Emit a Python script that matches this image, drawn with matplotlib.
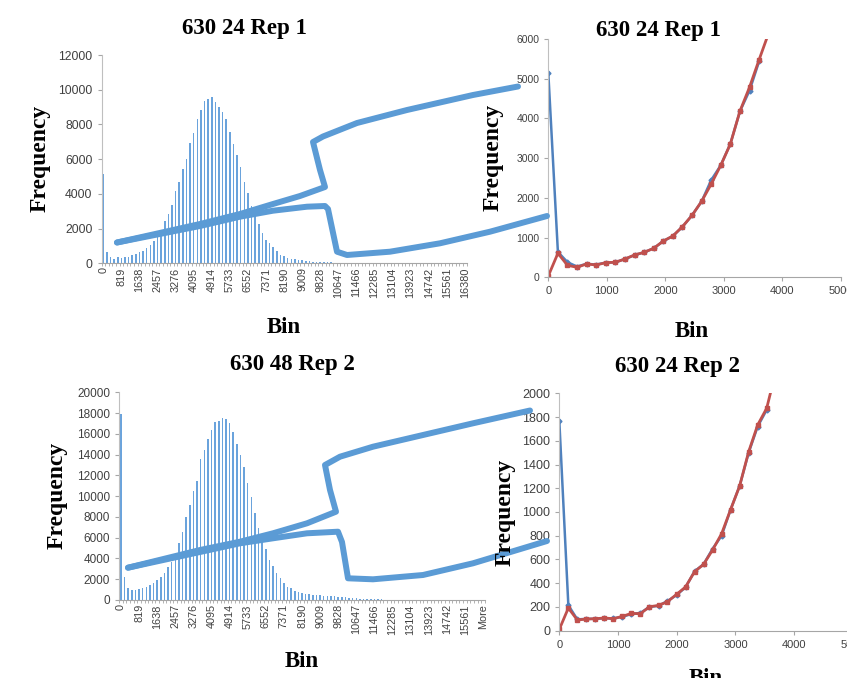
import numpy as np
import matplotlib.pyplot as plt
from matplotlib.lines import Line2D

# histogram counts, one per bin (bin width 163.8)
top_bin_labels = ['0', '819', '1638', '2457', '3276', '4095', '4914', '5733', '6552', '7371',
                  '8190', '9009', '9828', '10647', '11466', '12285', '13104', '13923',
                  '14742', '15561', '16380']
top_counts = [5150, 640, 380, 270, 340, 320, 370, 380, 460, 560,
              630, 730, 910, 1040, 1270, 1560, 1910, 2450, 2820, 3360,
              4180, 4700, 5440, 6030, 6950, 7520, 8310, 8830, 9350, 9440,
              9580, 9270, 8980, 8690, 8290, 7560, 6870, 6240, 5570, 4660,
              4070, 3300, 2700, 2250, 1770, 1350, 1170, 920, 700, 500,
              400, 310, 260, 230, 190, 170, 140, 115, 96, 85,
              75, 65, 58, 50, 45, 40, 35, 30, 28, 25,
              22, 20, 18, 16, 15, 13, 12, 11, 10, 9,
              8, 8, 7, 7, 6, 6, 6, 5, 5, 5,
              5, 4, 4, 4, 4, 3, 3, 3, 3, 3, 3]

bottom_bin_labels = ['0', '819', '1638', '2457', '3276', '4095', '4914', '5733', '6552', '7371',
                     '8190', '9009', '9828', '10647', '11466', '12285', '13104', '13923',
                     '14742', '15561', 'More']
bottom_counts = [17900, 2240, 1120, 960, 990, 1025, 1120, 1280, 1410, 1600,
                 1920, 2240, 2630, 3140, 3700, 4490, 5520, 6580, 8030, 9180,
                 10500, 11460, 13550, 14450, 15470, 16400, 17140, 17240, 17530, 17460,
                 17010, 16180, 15020, 14000, 12780, 11240, 9890, 8350, 6970, 5900,
                 4880, 3850, 3270, 2570, 2090, 1600, 1280, 1120, 900, 800,
                 640, 580, 545, 510, 470, 440, 420, 400, 380, 360,
                 330, 300, 260, 220, 190, 160, 140, 120, 100, 85,
                 70, 60, 50, 40, 30, 25, 20, 18, 15, 12,
                 10, 8, 7, 6, 5, 5, 4, 4, 3, 3,
                 3, 2, 2, 2, 2, 1, 1, 1, 1, 1, 0]

# zoomed line charts
rep1_x = [0, 164, 328, 491, 655, 819, 983, 1147, 1310, 1474, 1638, 1802,
          1966, 2129, 2293, 2457, 2621, 2785, 2948, 3112, 3276, 3440, 3604, 3767]
rep1_blue = top_counts[:23]
rep1_red = [34, 604, 302, 252, 336, 310, 369, 378, 461, 562, 629, 730,
            914, 1040, 1275, 1560, 1913, 2349, 2819, 3356, 4184, 4787, 5481, 6150]

rep2_x = [0, 154, 307, 461, 614, 768, 922, 1075, 1229, 1382, 1536, 1690,
          1843, 1997, 2150, 2304, 2458, 2611, 2765, 2918, 3072, 3226, 3379, 3533, 3686]
rep2_blue = [1770, 215, 95, 100, 100, 105, 103, 118, 140, 150, 200, 210,
             250, 300, 365, 500, 560, 690, 800, 1020, 1220, 1500, 1720, 1860]
rep2_red = [11, 191, 90, 98, 101, 107, 101, 121, 146, 143, 202, 213,
            244, 306, 368, 497, 559, 680, 817, 1020, 1219, 1508, 1733, 1874, 2180]

W, H = 847, 678
BAR = '#6aa3dc'
CALLOUT = '#5b9bd5'
BLUE = '#4f81bd'
RED = '#c0504d'
TICK = '#404040'
SANS = 'Liberation Sans'
SERIF = 'Liberation Serif'

fig = plt.figure(figsize=(W / 100, H / 100), dpi=100)


def rect(x0, y0, x1, y1):
    return [x0 / W, 1 - y1 / H, (x1 - x0) / W, (y1 - y0) / H]


def style(ax):
    for s in ['top', 'right']:
        ax.spines[s].set_visible(False)
    ax.spines['left'].set_color('#bfbfbf')
    ax.spines['bottom'].set_color('#a6a6a6')
    ax.set_facecolor('none')
    ax.tick_params(colors='#a6a6a6', labelcolor=TICK, length=3)


def hist(ax, counts, labels, ymax, ysize):
    pos = np.arange(len(counts))
    ax.bar(pos, counts, width=0.42, color=BAR, linewidth=0)
    ax.set_xlim(-0.5, len(counts) - 0.5)
    ax.set_ylim(0, ymax)
    ax.set_yticks(np.arange(0, ymax + 1, 2000))
    ax.set_xticks(pos[::5])
    ax.set_xticklabels(labels, rotation=90, fontsize=7.8, family=SANS)
    ax.set_xticks(np.arange(-0.5, len(counts)), minor=True)
    style(ax)
    ax.tick_params(axis='x', which='minor', length=2.5, colors='#a6a6a6')
    ax.tick_params(axis='x', which='major', length=0, pad=3)
    for t in ax.get_yticklabels():
        t.set_fontsize(ysize)
        t.set_family(SANS)


def lines(ax, x, blue, red, ymax, ystep, ysize):
    ax.plot(x[:len(blue)], blue, color=BLUE, lw=1.8, marker='D', ms=2.5)
    ax.plot(x, red, color=RED, lw=2, marker='s', ms=3.5)
    ax.set_xlim(0, 5000)
    ax.set_ylim(0, ymax)
    ax.set_xticks(np.arange(0, 5001, 1000))
    ax.set_yticks(np.arange(0, ymax + 1, ystep))
    style(ax)
    for t in ax.get_xticklabels():
        t.set_fontsize(8)
        t.set_family(SANS)
    for t in ax.get_yticklabels():
        t.set_fontsize(ysize)
        t.set_family(SANS)


ax1 = fig.add_axes(rect(101.5, 55, 466.7, 263.3))
hist(ax1, top_counts, top_bin_labels, 12000, 8.8)

ax3 = fig.add_axes(rect(119.2, 392.3, 484.8, 600))
hist(ax3, bottom_counts, bottom_bin_labels, 20000, 8.5)

ax2 = fig.add_axes(rect(548.3, 39, 840.8, 277.3))
lines(ax2, rep1_x, rep1_blue, rep1_red, 6000, 1000, 7.5)

ax4 = fig.add_axes(rect(559.3, 393.3, 852.8, 630.7))
lines(ax4, rep2_x, rep2_blue, rep2_red, 2000, 200, 9)


def label(x, y, s, rot=0, va='baseline'):
    fig.text(x / W, 1 - y / H, s, rotation=rot, ha='center', va=va,
             fontsize=17 if rot else 16.5, fontweight='bold', family=SERIF, zorder=5)


label(244, 34, '630 24 Rep 1')
label(658, 36, '630 24 Rep 1')
label(292, 370, '630 48 Rep 2')
label(677, 372, '630 24 Rep 2')
label(284, 333, 'Bin')
label(692, 337, 'Bin')
label(302, 667, 'Bin')
label(706, 684, 'Bin')
label(40, 158, 'Frequency', 90, 'center')
label(493, 157, 'Frequency', 90, 'center')
label(57, 495, 'Frequency', 90, 'center')
label(505, 512, 'Frequency', 90, 'center')

# zoom callout shapes drawn over the charts (pixel coords)
callouts = [
    [(117, 242.5), (200, 224), (240, 214), (273, 204), (300, 196), (325, 187),
     (320, 170), (313, 142), (323, 136.5), (357, 123), (407, 110), (473, 95), (518, 86.5)],
    [(117, 242.5), (200, 226), (240, 216.7), (273, 210.7), (307, 206.7), (325, 206),
     (328, 209), (337, 251.7), (347, 255), (390, 251.7), (440, 243.3), (490, 231.7), (547, 216)],
    [(128, 567.7), (200, 550), (240, 541.7), (273, 533.3), (307, 523.3), (336, 511.7),
     (330, 490), (325, 465), (340, 456.7), (373, 446.7), (423, 435), (473, 423.3), (530, 410.5)],
    [(128, 567.7), (200, 552), (240, 543.3), (273, 538.3), (307, 533.3), (338, 531.7),
     (342, 542), (348, 578.3), (373, 579.3), (423, 575), (473, 563.3), (547, 541)],
]
for pts in callouts:
    xs = [p[0] / W for p in pts]
    ys = [1 - p[1] / H for p in pts]
    fig.add_artist(Line2D(xs, ys, transform=fig.transFigure, color=CALLOUT, lw=4.3,
                          solid_capstyle='round', solid_joinstyle='round', zorder=3))

fig.savefig('out.png', dpi=100)
